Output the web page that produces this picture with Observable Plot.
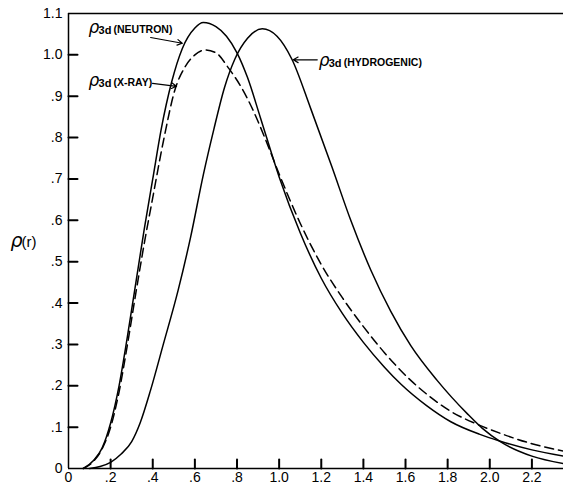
<!DOCTYPE html>
<html>
<head>
<meta charset="utf-8">
<script src="https://cdn.jsdelivr.net/npm/d3@7"></script>
<script src="https://cdn.jsdelivr.net/npm/@observablehq/plot@0.6"></script>
<style>
  html, body { margin: 0; padding: 0; background: #fff; }
</style>
</head>
<body>
<div id="chart"></div>
<script>
// ---- data ----
const neutronX = [0.07, 0.12, 0.16, 0.2, 0.24, 0.28, 0.32, 0.36, 0.4, 0.44, 0.49, 0.54, 0.6, 0.64, 0.7, 0.75, 0.8, 0.85, 0.91, 1.0, 1.1, 1.2, 1.3, 1.4, 1.5, 1.58, 1.7, 1.815, 1.95, 2.05, 2.2, 2.35];
const neutronY = [0, 0.02, 0.05, 0.11, 0.2, 0.32, 0.45, 0.58, 0.7, 0.82, 0.935, 1.015, 1.065, 1.078, 1.068, 1.045, 1.005, 0.945, 0.85, 0.705, 0.57, 0.46, 0.375, 0.305, 0.245, 0.203, 0.152, 0.113, 0.083, 0.066, 0.045, 0.03];

const xrayX = [0.07, 0.12, 0.16, 0.2, 0.24, 0.28, 0.32, 0.36, 0.4, 0.45, 0.508, 0.55, 0.6, 0.65, 0.7, 0.76, 0.82, 0.88, 0.93, 1.0, 1.1, 1.2, 1.3, 1.4, 1.5, 1.625, 1.72, 1.815, 1.95, 2.05, 2.2, 2.35];
const xrayY = [0, 0.018, 0.048, 0.1, 0.185, 0.3, 0.425, 0.545, 0.655, 0.79, 0.92, 0.968, 1.0, 1.012, 1.005, 0.968, 0.922, 0.862, 0.802, 0.712, 0.593, 0.493, 0.413, 0.343, 0.28, 0.213, 0.172, 0.138, 0.105, 0.085, 0.06, 0.042];

const hydroX = [0.1, 0.15, 0.2, 0.25, 0.3, 0.34, 0.39, 0.45, 0.52, 0.58, 0.64, 0.69, 0.74, 0.79, 0.85, 0.92, 0.99, 1.06, 1.15, 1.25, 1.34, 1.435, 1.53, 1.625, 1.75, 1.894, 1.965, 2.05, 2.2, 2.35];
const hydroY = [0, 0.005, 0.015, 0.035, 0.065, 0.11, 0.19, 0.3, 0.43, 0.56, 0.71, 0.82, 0.92, 0.99, 1.04, 1.063, 1.045, 0.99, 0.87, 0.73, 0.6, 0.48, 0.38, 0.297, 0.213, 0.132, 0.097, 0.065, 0.03, 0.012];

const xTicks = [0, 0.2, 0.4, 0.6, 0.8, 1.0, 1.2, 1.4, 1.6, 1.8, 2.0, 2.2];
const xTickLabels = ["0", ".2", ".4", ".6", ".8", "1.0", "1.2", "1.4", "1.6", "1.8", "2.0", "2.2"];
const yTicks = [0, 0.1, 0.2, 0.3, 0.4, 0.5, 0.6, 0.7, 0.8, 0.9, 1.0, 1.1];
const yTickLabels = ["0", ".1", ".2", ".3", ".4", ".5", ".6", ".7", ".8", ".9", "1.0", "1.1"];

// curve labels (anchor in data units) and their pointer arrows
const labelNames = ["(NEUTRON)", "(X-RAY)", "(HYDROGENIC)"];
const labelX = [0.095, 0.095, 1.188];
const labelY = [1.052, 0.924, 0.974];
const arrowX1 = [0.39, 0.399, 1.181];
const arrowY1 = [1.042, 0.931, 0.988];
const arrowX2 = [0.54, 0.513, 1.067];
const arrowY2 = [1.028, 0.924, 0.988];

// ---- layout ----
const W = 563, H = 487, ML = 68, MR = 0, MT = 13, MB = 19;
const xDomain = [0, 2.35], yDomain = [0, 1.1];
const TICK = 9; // px, inward tick length
const tickDX = TICK * (xDomain[1] - xDomain[0]) / (W - ML - MR);
const tickDY = TICK * (yDomain[1] - yDomain[0]) / (H - MT - MB);

// ---- build tables ----
const toPts = (xs, ys) => xs.map((x, i) => ({x, y: ys[i]}));
const neutron = toPts(neutronX, neutronY);
const xray = toPts(xrayX, xrayY);
const hydro = toPts(hydroX, hydroY);
const labels = labelNames.map((name, i) => ({name, x: labelX[i], y: labelY[i]}));
const arrows = arrowX1.map((x1, i) => ({x1, y1: arrowY1[i], x2: arrowX2[i], y2: arrowY2[i]}));
// tick segments as two-point lines grouped by tick
const xTickSeg = xTicks.slice(1).flatMap(t => [{t, v: 0}, {t, v: tickDY}]);
const yTickSeg = yTicks.slice(1, -1).flatMap(t => [{t, v: 0}, {t, v: tickDX}]);

const fontFamily = "'Liberation Sans', Arial, sans-serif";

const chart = Plot.plot({
  width: W,
  height: H,
  marginLeft: ML,
  marginRight: MR,
  marginTop: MT,
  marginBottom: MB,
  style: {fontFamily, fontSize: "14px", background: "#fff", color: "#000"},
  x: {domain: xDomain},
  y: {domain: yDomain},
  marks: [
    Plot.axisX({ticks: xTicks, tickFormat: (d, i) => xTickLabels[i], tickSize: 0, tickPadding: 4, label: null, fontSize: 14}),
    Plot.axisY({ticks: yTicks, tickFormat: (d, i) => yTickLabels[i], tickSize: 0, tickPadding: 6, label: null, fontSize: 14}),
    Plot.line(xTickSeg, {x: "t", y: "v", z: "t", stroke: "#000", strokeWidth: 2}),
    Plot.line(yTickSeg, {x: "v", y: "t", z: "t", stroke: "#000", strokeWidth: 2}),
    Plot.ruleY([0], {strokeWidth: 1.5}),
    Plot.ruleY([1.1], {strokeWidth: 1.5}),
    Plot.ruleX([0], {strokeWidth: 1.5}),
    Plot.line(neutron, {x: "x", y: "y", curve: "monotone-x", stroke: "#000", strokeWidth: 1.5}),
    Plot.line(hydro, {x: "x", y: "y", curve: "monotone-x", stroke: "#000", strokeWidth: 1.5}),
    Plot.line(xray, {x: "x", y: "y", curve: "monotone-x", stroke: "#000", strokeWidth: 1.5, strokeDasharray: "9,5"}),
    Plot.arrow(arrows, {x1: "x1", y1: "y1", x2: "x2", y2: "y2", stroke: "#000", strokeWidth: 1.2, headLength: 7, bend: 0}),
    Plot.text(labels, {x: "x", y: "y", text: () => "ρ", textAnchor: "start", lineAnchor: "bottom", fontSize: 17, fontStyle: "italic", fontFamily: "'DejaVu Sans', sans-serif"}),
    Plot.text(labels, {x: "x", y: "y", text: () => "3d", textAnchor: "start", lineAnchor: "bottom", dx: 10, dy: 1, fontSize: 11, fontWeight: "bold"}),
    Plot.text(labels, {x: "x", y: "y", text: "name", textAnchor: "start", lineAnchor: "bottom", dx: 25, dy: 0, fontSize: 10.5, fontWeight: "bold"}),
    Plot.text([0], {frameAnchor: "left", text: () => "ρ", textAnchor: "start", dx: -58, fontSize: 19, fontStyle: "italic", fontFamily: "'DejaVu Sans', sans-serif"}),
    Plot.text([0], {frameAnchor: "left", text: () => "(r)", textAnchor: "start", dx: -47, dy: 1, fontSize: 15})
  ]
});
document.getElementById("chart").appendChild(chart);
</script>
</body>
</html>
